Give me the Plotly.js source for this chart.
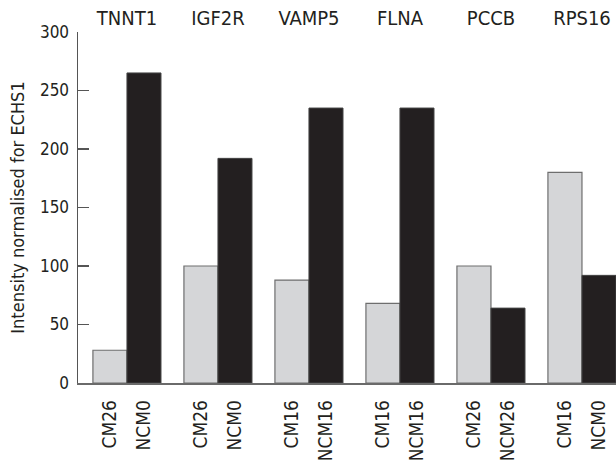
<!DOCTYPE html>
<html>
<head>
<meta charset="utf-8">
<script src="https://cdn.plot.ly/plotly-3.0.1.min.js"></script>
<style>html,body{margin:0;padding:0;background:#fff;}#chart{width:616px;height:461px;}</style>
</head>
<body>
<div id="chart"></div>
<script>
// Data
const genes = ["TNNT1", "IGF2R", "VAMP5", "FLNA", "PCCB", "RPS16"];
const grayLabels = ["CM26", "CM26", "CM16", "CM16", "CM26", "CM16"];
const blackLabels = ["NCM0", "NCM0", "NCM16", "NCM16", "NCM26", "NCM0"];
const grayValues = [28, 100, 88, 68, 100, 180];
const blackValues = [265, 192, 235, 235, 64, 92];

const half = 0.187;
const groupIdx = genes.map((g, i) => i);
const grayX = groupIdx.map(i => i - half);
const blackX = groupIdx.map(i => i + half);

const tickVals = [], tickText = [];
groupIdx.forEach(i => {
  tickVals.push(grayX[i], blackX[i]);
  tickText.push(grayLabels[i], blackLabels[i]);
});

const FONT = "DejaVu Sans Condensed, Noto Sans, sans-serif";
const TXT = "#231f20";
const traces = [
  {type: "bar", x: grayX, y: grayValues, width: 2 * half,
   marker: {color: "#d5d6d8", line: {color: "#6e6e6e", width: 1.2}},
   hoverinfo: "y", showlegend: false},
  {type: "bar", x: blackX, y: blackValues, width: 2 * half,
   marker: {color: "#231f20", line: {color: "#444", width: 1}},
   hoverinfo: "y", showlegend: false},
  {type: "scatter", x: groupIdx, y: groupIdx.map(() => null), xaxis: "x2",
   mode: "markers", showlegend: false, hoverinfo: "skip"}
];

const layout = {
  width: 616, height: 461,
  margin: {l: 78, r: 0, t: 32, b: 78},
  paper_bgcolor: "#fff", plot_bgcolor: "#fff",
  font: {family: FONT, size: 17, color: TXT},
  xaxis: {
    range: [-0.538, 5.374], showgrid: false, zeroline: false,
    showline: true, linecolor: "#6a6a6a", linewidth: 1.5,
    tickmode: "array", tickvals: tickVals, ticktext: tickText,
    tickangle: -90, ticks: "", ticklabelstandoff: 8,
    tickfont: {family: FONT, size: 19, color: TXT}
  },
  xaxis2: {
    overlaying: "x", side: "top", anchor: "y",
    range: [-0.538, 5.374], showgrid: false, zeroline: false, showline: false,
    tickmode: "array", tickvals: groupIdx, ticktext: genes, ticks: "",
    ticklabelstandoff: 2,
    tickfont: {family: FONT, size: 20, color: TXT}
  },
  yaxis: {
    range: [0, 300], tickvals: [0, 50, 100, 150, 200, 250, 300],
    showgrid: false, zeroline: false,
    showline: true, linecolor: "#555", linewidth: 1.5,
    ticks: "inside", ticklen: 11, tickcolor: "#555", tickwidth: 1.2,
    ticklabelstandoff: 4,
    tickfont: {family: FONT, size: 17, color: TXT},
    title: {text: "Intensity normalised for ECHS1", font: {family: FONT, size: 18, color: TXT}, standoff: 10}
  },
  bargap: 0
};

Plotly.newPlot("chart", traces, layout, {displayModeBar: false, staticPlot: true});
</script>
</body>
</html>
